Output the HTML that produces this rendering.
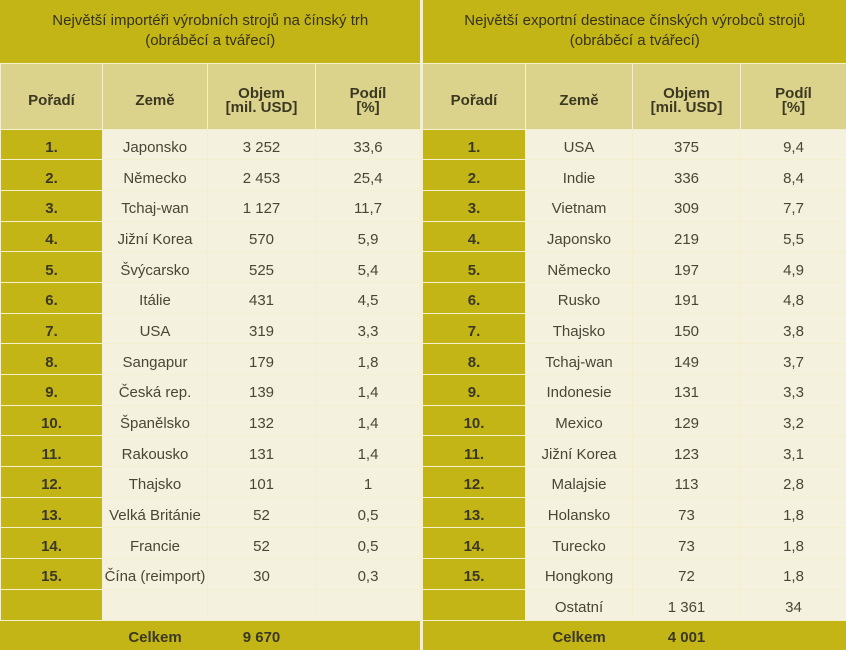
<!DOCTYPE html>
<html><head><meta charset="utf-8"><style>
body{margin:0;width:846px;height:650px;overflow:hidden;background:#c4b516;font-family:"Liberation Sans",sans-serif;color:#3b3822}
table{border-collapse:collapse;table-layout:fixed;position:absolute;top:0;width:846px}
td{padding:0;text-align:center;font-size:15px;border:1px solid #f4f0cf;overflow:hidden;white-space:nowrap;box-sizing:border-box}
.t td{height:63px;background:#c4b516;font-size:15px;line-height:20px;border-top:none;color:#35321c}
.h td{height:66px;background:#dbd28b;font-weight:bold;font-size:15px;line-height:14px;padding-top:10px}
.d td{height:30.7px;background:#f4f2de;color:#4a4636;padding-top:6px}
.d td.r{background:#c4b516;font-weight:bold;color:#3b3822}
.d td.e{background:#c4b516}
.f td{height:30px;background:#c4b516;font-weight:bold;border:none;border-top:1px solid #f4f0cf;padding-top:4px}
td.s{border-left:3px solid #f4f0cf}
</style></head><body>
<table>
<colgroup><col style="width:102px"><col style="width:105px"><col style="width:108px"><col style="width:106px"><col style="width:104px"><col style="width:107px"><col style="width:108px"><col style="width:106px"></colgroup>
<tr class="t"><td colspan="4" style="border-left:none">Největší importéři výrobních strojů na čínský trh<br>(obráběcí a tvářecí)</td><td colspan="4" class="s" style="border-right:none">Největší exportní destinace čínských výrobců strojů<br>(obráběcí a tvářecí)</td></tr>
<tr class="h"><td>Pořadí</td><td>Země</td><td>Objem<br>[mil. USD]</td><td>Podíl<br>[%]</td><td class="s">Pořadí</td><td>Země</td><td>Objem<br>[mil. USD]</td><td>Podíl<br>[%]</td></tr>
<tr class="d"><td class="r">1.</td><td>Japonsko</td><td>3 252</td><td>33,6</td><td class="r s">1.</td><td>USA</td><td>375</td><td>9,4</td></tr>
<tr class="d"><td class="r">2.</td><td>Německo</td><td>2 453</td><td>25,4</td><td class="r s">2.</td><td>Indie</td><td>336</td><td>8,4</td></tr>
<tr class="d"><td class="r">3.</td><td>Tchaj-wan</td><td>1 127</td><td>11,7</td><td class="r s">3.</td><td>Vietnam</td><td>309</td><td>7,7</td></tr>
<tr class="d"><td class="r">4.</td><td>Jižní Korea</td><td>570</td><td>5,9</td><td class="r s">4.</td><td>Japonsko</td><td>219</td><td>5,5</td></tr>
<tr class="d"><td class="r">5.</td><td>Švýcarsko</td><td>525</td><td>5,4</td><td class="r s">5.</td><td>Německo</td><td>197</td><td>4,9</td></tr>
<tr class="d"><td class="r">6.</td><td>Itálie</td><td>431</td><td>4,5</td><td class="r s">6.</td><td>Rusko</td><td>191</td><td>4,8</td></tr>
<tr class="d"><td class="r">7.</td><td>USA</td><td>319</td><td>3,3</td><td class="r s">7.</td><td>Thajsko</td><td>150</td><td>3,8</td></tr>
<tr class="d"><td class="r">8.</td><td>Sangapur</td><td>179</td><td>1,8</td><td class="r s">8.</td><td>Tchaj-wan</td><td>149</td><td>3,7</td></tr>
<tr class="d"><td class="r">9.</td><td>Česká rep.</td><td>139</td><td>1,4</td><td class="r s">9.</td><td>Indonesie</td><td>131</td><td>3,3</td></tr>
<tr class="d"><td class="r">10.</td><td>Španělsko</td><td>132</td><td>1,4</td><td class="r s">10.</td><td>Mexico</td><td>129</td><td>3,2</td></tr>
<tr class="d"><td class="r">11.</td><td>Rakousko</td><td>131</td><td>1,4</td><td class="r s">11.</td><td>Jižní Korea</td><td>123</td><td>3,1</td></tr>
<tr class="d"><td class="r">12.</td><td>Thajsko</td><td>101</td><td>1</td><td class="r s">12.</td><td>Malajsie</td><td>113</td><td>2,8</td></tr>
<tr class="d"><td class="r">13.</td><td>Velká Británie</td><td>52</td><td>0,5</td><td class="r s">13.</td><td>Holansko</td><td>73</td><td>1,8</td></tr>
<tr class="d"><td class="r">14.</td><td>Francie</td><td>52</td><td>0,5</td><td class="r s">14.</td><td>Turecko</td><td>73</td><td>1,8</td></tr>
<tr class="d"><td class="r">15.</td><td>Čína (reimport)</td><td>30</td><td>0,3</td><td class="r s">15.</td><td>Hongkong</td><td>72</td><td>1,8</td></tr>
<tr class="d"><td class="e"></td><td></td><td></td><td></td><td class="e s"></td><td>Ostatní</td><td>1 361</td><td>34</td></tr>
<tr class="f"><td></td><td>Celkem</td><td>9 670</td><td></td><td class="s"></td><td>Celkem</td><td>4 001</td><td></td></tr>
</table>
</body></html>
